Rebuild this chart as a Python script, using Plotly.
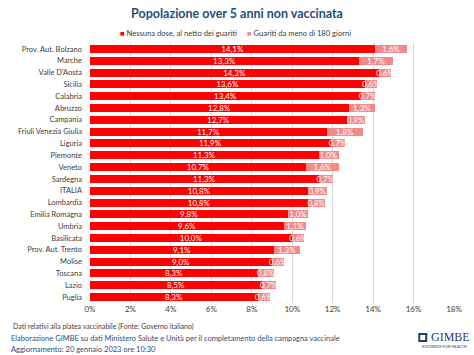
import plotly.graph_objects as go

regions = ["Prov. Aut. Bolzano", "Marche", "Valle D'Aosta", "Sicilia", "Calabria", "Abruzzo",
           "Campania", "Friuli Venezia Giulia", "Liguria", "Piemonte", "Veneto", "Sardegna",
           "ITALIA", "Lombardia", "Emilia Romagna", "Umbria", "Basilicata", "Prov. Aut. Trento",
           "Molise", "Toscana", "Lazio", "Puglia"]
nessuna_dose = [14.1, 13.3, 14.3, 13.6, 13.4, 12.8, 12.7, 11.7, 11.9, 11.3, 10.7, 11.3,
                10.8, 10.8, 9.8, 9.6, 10.0, 9.1, 9.0, 8.3, 8.5, 8.3]
guariti = [1.6, 1.7, 0.6, 0.6, 0.7, 1.3, 0.9, 1.8, 0.7, 1.0, 1.6, 0.7,
           0.9, 0.8, 1.0, 1.1, 0.6, 1.3, 0.6, 0.8, 0.7, 0.6]
x_ticks = [0, 2, 4, 6, 8, 10, 12, 14, 16, 18]
x_tick_labels = ["0%", "2%", "4%", "6%", "8%", "10%", "12%", "14%", "16%", "18%"]
series_names = ["Nessuna dose, al netto dei guariti", "Guariti da meno di 180 giorni"]
series_colors = ["#FF0000", "#F28A8A"]

FONT = "Lato"
fig = go.Figure()
for vals, name, col in zip([nessuna_dose, guariti], series_names, series_colors):
    fig.add_trace(go.Bar(
        y=regions, x=vals, orientation="h", name=name,
        marker=dict(color=col, line=dict(width=0)),
        texttemplate="%{x:.1f}%", textposition="inside", insidetextanchor="middle",
        textfont=dict(color="white", size=8, family=FONT), textangle=0,
        constraintext="none", showlegend=False,
    ))

fig.update_layout(
    width=474, height=355, barmode="stack", bargap=0.32,
    separators=",.",
    paper_bgcolor="white", plot_bgcolor="white",
    margin=dict(l=90, r=17, t=43, b=52),
    font=dict(family=FONT, size=8, color="#404040"),
    uniformtext=dict(minsize=7, mode="show"),
    title=dict(text="<b>Popolazione over 5 anni non vaccinata</b>", x=0.5, xref="container",
               xanchor="center", y=1 - 14 / 355, yref="container", yanchor="middle",
               font=dict(size=12.5, color="#1F4E79", family=FONT)),
    xaxis=dict(range=[0, 18], tickvals=x_ticks, ticktext=x_tick_labels, showgrid=True,
               gridcolor="#D9D9D9", gridwidth=1, zeroline=False, showline=False,
               tickfont=dict(size=8, color="#404040")),
    yaxis=dict(autorange="reversed", showgrid=False, ticks="", ticklen=0,
               ticklabelstandoff=7,
               tickfont=dict(size=7.5, color="#404040"), automargin=False),
)

px_to_x = lambda px: (px - 90) / (474 - 90 - 17)
px_to_y = lambda py: (355 - 52 - py) / (355 - 43 - 52)

# legend drawn as text with small coloured squares
for name, col, px in zip(series_names, series_colors, [118, 246]):
    fig.add_annotation(text=f"<span style='color:{col}'>■</span> {name}",
                       x=px_to_x(px), y=px_to_y(33), xref="paper", yref="paper",
                       xanchor="left", yanchor="middle", showarrow=False,
                       font=dict(size=7.6, color="#404040", family=FONT))

fig.add_annotation(text="Dati relativi alla platea vaccinabile (Fonte: Governo italiano)",
                   x=px_to_x(10), y=px_to_y(326), xref="paper", yref="paper",
                   xanchor="left", yanchor="middle", showarrow=False,
                   font=dict(size=7, color="#404040", family=FONT))
fig.add_annotation(text="Elaborazione GIMBE su dati Ministero Salute e Unità per il completamento della campagna vaccinale",
                   x=px_to_x(8), y=px_to_y(338), xref="paper", yref="paper",
                   xanchor="left", yanchor="middle", showarrow=False,
                   font=dict(size=7.5, color="#1F4E79", family=FONT))
fig.add_annotation(text="Aggiornamento: 20 gennaio 2023 ore 10:30",
                   x=px_to_x(8), y=px_to_y(349), xref="paper", yref="paper",
                   xanchor="left", yanchor="middle", showarrow=False,
                   font=dict(size=7.5, color="#1F4E79", family=FONT))
# logo
fig.add_annotation(text="GIMBE", x=px_to_x(432), y=px_to_y(337), xref="paper", yref="paper",
                   xanchor="left", yanchor="middle", showarrow=False,
                   font=dict(size=12, color="#1F3F6E", family="Liberation Serif"))
fig.add_annotation(text="EVIDENCE FOR HEALTH", x=px_to_x(447), y=px_to_y(346), xref="paper", yref="paper",
                   xanchor="center", yanchor="middle", showarrow=False,
                   font=dict(size=4, color="#1F3F6E", family=FONT))
fig.add_shape(type="rect", xref="paper", yref="paper",
              x0=px_to_x(421), x1=px_to_x(430), y0=px_to_y(342), y1=px_to_y(333),
              fillcolor="#1F3F6E", line=dict(width=0))
fig.add_shape(type="rect", xref="paper", yref="paper",
              x0=px_to_x(423), x1=px_to_x(428), y0=px_to_y(340), y1=px_to_y(335),
              fillcolor="white", line=dict(width=0))

fig.write_html("out.html", config={"displayModeBar": False},
               post_script="document.body.style.margin='0';")
